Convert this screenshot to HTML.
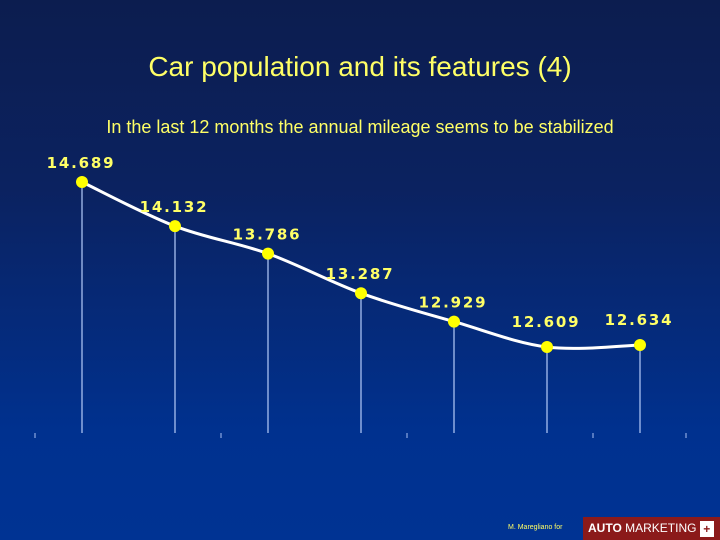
<!DOCTYPE html>
<html><head><meta charset="utf-8"><style>
html,body{margin:0;padding:0}
body{width:720px;height:540px;overflow:hidden;background:linear-gradient(#0c1d4f 0%,#0b2260 35%,#00318f 80%,#003393 100%);font-family:"Liberation Sans",sans-serif;position:relative}
.t{position:absolute;left:0;width:720px;text-align:center;color:#ffff66}
</style></head><body>
<div class="t" style="top:51px;font-size:28px">Car population and its features (4)</div>
<div class="t" style="top:117px;font-size:18px">In the last 12 months the annual mileage seems to be stabilized</div>
<svg id="c" width="720" height="540" style="position:absolute;left:0;top:0"></svg>
<div style="position:absolute;left:508px;top:524px;font-size:7px;color:#ffff66">M. Maregliano for</div>
<div style="position:absolute;left:583px;top:517px;width:137px;height:23px;background:#8b1a1a;color:#fff;font-size:12px;line-height:23px;padding-left:5px;box-sizing:border-box"><b>AUTO</b> MARKETING <span style="display:inline-block;width:14px;height:16px;background:#fff;color:#8b1a1a;text-align:center;line-height:16px;vertical-align:middle;font-weight:bold">+</span></div>
<script>
const categories=["p1","p2","p3","p4","p5","p6","p7"];
const values=[14.689,14.132,13.786,13.287,12.929,12.609,12.634];
const labels=["14.689","14.132","13.786","13.287","12.929","12.609","12.634"];
const ticks=[0,1,2,3,3.5];
const svg=document.getElementById('c');
const NS='http://www.w3.org/2000/svg';
const xS=i=>82+i*93;
const yS=v=>182+(14.689-v)*79.33;
const base=433;
function mk(t,a){const e=document.createElementNS(NS,t);for(const k in a)e.setAttribute(k,a[k]);svg.appendChild(e);return e;}
ticks.forEach(i=>{const tk=mk('line',{x1:35+i*186,x2:35+i*186,y1:433,y2:438,stroke:'#a8c0f0','stroke-width':1});

});
values.forEach((v,i)=>{const l=mk('line',{x1:xS(i),x2:xS(i),y1:yS(v),y2:base,stroke:'#a8c0f0','stroke-width':1.3});

});
const P=values.map((v,i)=>[xS(i),yS(v)]);
let d='M'+P[0][0]+','+P[0][1];
for(let i=0;i<P.length-1;i++){const p0=P[Math.max(0,i-1)],p1=P[i],p2=P[i+1],p3=P[Math.min(P.length-1,i+2)];
d+=' C'+(p1[0]+(p2[0]-p0[0])/6)+','+(p1[1]+(p2[1]-p0[1])/6)+' '+(p2[0]-(p3[0]-p1[0])/6)+','+(p2[1]-(p3[1]-p1[1])/6)+' '+p2[0]+','+p2[1];}
const ln=mk('path',{d:d,fill:'none',stroke:'#fff','stroke-width':3});


values.forEach((v,i)=>{const c=mk('circle',{cx:xS(i),cy:yS(v),r:6,fill:'#ffff00'});


const t=mk('text',{x:xS(i)-1,y:yS(v)-(i>=5?20:14),'text-anchor':'middle','font-family':'"DejaVu Sans",sans-serif','font-weight':'bold','font-size':15,'letter-spacing':1.8,fill:'#ffff66'});
t.textContent=labels[i];

});
</script>
</body></html>
